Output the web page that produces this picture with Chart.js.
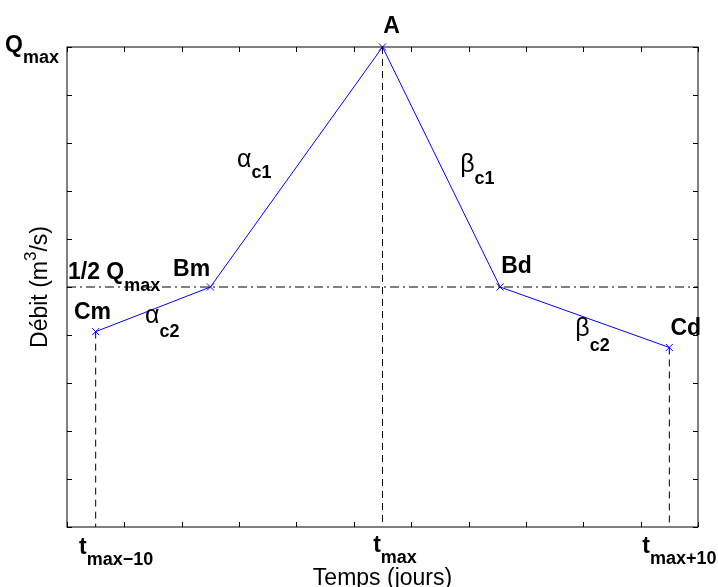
<!DOCTYPE html>
<html>
<head>
<meta charset="utf-8">
<script src="https://cdn.jsdelivr.net/npm/chart.js@4.4.0/dist/chart.umd.min.js"></script>
<style>
  html, body { margin: 0; padding: 0; background: #fff; }
  canvas { display: block; }
</style>
</head>
<body>
<canvas id="hydro" width="718" height="587"></canvas>
<script>
// points caractéristiques de l'hydrogramme
const pointNames = ['Cm', 'Bm', 'A', 'Bd', 'Cd'];
const timeValues = [0.5, 2.5, 5.5, 7.55, 10.5];
const flowValues = [4.07, 5, 10, 5, 3.74];
const halfQmax = 5;

// graduations (sans étiquettes numériques)
const xTickValues = [0, 1, 2, 3, 4, 5, 6, 7, 8, 9, 10, 11];
const yTickValues = [0, 1, 2, 3, 4, 5, 6, 7, 8, 9, 10];

const FONT = '"Liberation Sans", Arial, Helvetica, sans-serif';
const BIG = 'bold 23px ' + FONT;
const SUB = 'bold 18px ' + FONT;
const GREEK = '25px ' + FONT;
const TITLE = '23px ' + FONT;

// textes placés en coordonnées données
const annotations = [
    { x: -0.14, y: 9.906, align: 'right', parts: [['Q', BIG, 0], ['max', SUB, 11]] },
    { x: 0.017, y: 5.17, parts: [['1/2 Q', BIG, 0], ['max', SUB, 12]] },
    { x: 0.122, y: 4.338, parts: [['Cm', BIG, 0]] },
    { x: 1.849, y: 5.235, parts: [['Bm', BIG, 0]] },
    { x: 5.512, y: 10.30, parts: [['A', BIG, 0]] },
    { x: 7.57, y: 5.30, parts: [['Bd', BIG, 0]] },
    { x: 10.52, y: 4.0, parts: [['Cd', BIG, 0]] },
    { x: 2.965, y: 7.51, parts: [['\u03b1', GREEK, 0], ['c1', SUB, 11]] },
    { x: 6.855, y: 7.40, parts: [['\u03b2', GREEK, 0], ['c1', SUB, 12]] },
    { x: 1.36, y: 4.254, parts: [['\u03b1', GREEK, 0], ['c2', SUB, 14]] },
    { x: 8.861, y: 3.983, parts: [['\u03b2', GREEK, 0], ['c2', SUB, 15]] },
    { x: 0.209, y: -0.56, parts: [['t', BIG, 0], ['max\u221210', SUB, 11]] },
    { x: 5.337, y: -0.52, parts: [['t', BIG, 0], ['max', SUB, 11]] },
    { x: 10.03, y: -0.55, parts: [['t', BIG, 0], ['max+10', SUB, 11]] },
    { x: 5.5, y: -1.20, align: 'center', parts: [['Temps (jours)', TITLE, 0]] }
];

function drawRich(ctx, x, y, parts, align) {
    let w = 0;
    parts.forEach(function (p) {
        ctx.font = p[1];
        w += ctx.measureText(p[0]).width;
    });
    if (align === 'right') x -= w;
    if (align === 'center') x -= w / 2;
    parts.forEach(function (p) {
        ctx.font = p[1];
        ctx.fillText(p[0], x, y + p[2]);
        x += ctx.measureText(p[0]).width;
    });
}

const axesBox = {
    id: 'axesBox',
    afterDraw: function (chart) {
        const ctx = chart.ctx;
        const xs = chart.scales.x, ys = chart.scales.y;
        const a = chart.chartArea;
        ctx.save();
        ctx.strokeStyle = '#000';
        ctx.lineWidth = 1;
        ctx.strokeRect(a.left, a.top, a.right - a.left, a.bottom - a.top);
        ctx.beginPath();
        xTickValues.forEach(function (v) {
            const px = Math.round(xs.getPixelForValue(v)) + 0.5;
            ctx.moveTo(px, a.bottom); ctx.lineTo(px, a.bottom - 5);
            ctx.moveTo(px, a.top); ctx.lineTo(px, a.top + 5);
        });
        yTickValues.forEach(function (v) {
            const py = Math.round(ys.getPixelForValue(v)) + 0.5;
            ctx.moveTo(a.left, py); ctx.lineTo(a.left + 5, py);
            ctx.moveTo(a.right, py); ctx.lineTo(a.right - 5, py);
        });
        ctx.stroke();

        ctx.fillStyle = '#000';
        ctx.textBaseline = 'alphabetic';
        annotations.forEach(function (t) {
            drawRich(ctx, xs.getPixelForValue(t.x), ys.getPixelForValue(t.y), t.parts, t.align);
        });

        // titre de l'axe vertical
        ctx.translate(xs.getPixelForValue(-0.34), ys.getPixelForValue(5));
        ctx.rotate(-Math.PI / 2);
        drawRich(ctx, 0, 0, [['D\u00e9bit (m', TITLE, 0], ['3', '17px ' + FONT, -11], ['/s)', TITLE, 0]], 'center');
        ctx.restore();
    }
};

// segments de repère construits à partir des points
const guideData = [];
[0, 2, 4].forEach(function (i) {
    guideData.push({ x: timeValues[i], y: flowValues[i] });
    guideData.push({ x: timeValues[i], y: 0 });
    guideData.push({ x: null, y: null });
});

new Chart(document.getElementById('hydro'), {
    type: 'line',
    data: {
        datasets: [{
            label: 'Hydrogramme',
            data: timeValues.map(function (t, i) { return { x: t, y: flowValues[i] }; }),
            borderColor: '#0000ff',
            borderWidth: 1,
            pointStyle: 'crossRot',
            pointRadius: 5,
            pointBorderColor: '#0000ff',
            pointBorderWidth: 1,
            fill: false,
            tension: 0,
            clip: false,
            order: 0
        }, {
            label: '1/2 Qmax',
            data: [{ x: 0, y: halfQmax }, { x: 11, y: halfQmax }],
            borderColor: '#000',
            borderWidth: 1,
            borderDash: [9, 4, 2, 4],
            pointRadius: 0,
            fill: false,
            order: 1
        }, {
            label: 'repères',
            data: guideData,
            borderColor: '#000',
            borderWidth: 1,
            borderDash: [7, 5],
            pointRadius: 0,
            spanGaps: false,
            fill: false,
            order: 2
        }]
    },
    options: {
        responsive: false,
        animation: false,
        parsing: false,
        layout: { padding: { left: 67, right: 20, top: 47, bottom: 60 } },
        scales: {
            x: { type: 'linear', min: 0, max: 11, display: false },
            y: { type: 'linear', min: 0, max: 10, display: false }
        },
        plugins: {
            legend: { display: false },
            tooltip: { enabled: false }
        }
    },
    plugins: [axesBox]
});
</script>
</body>
</html>
